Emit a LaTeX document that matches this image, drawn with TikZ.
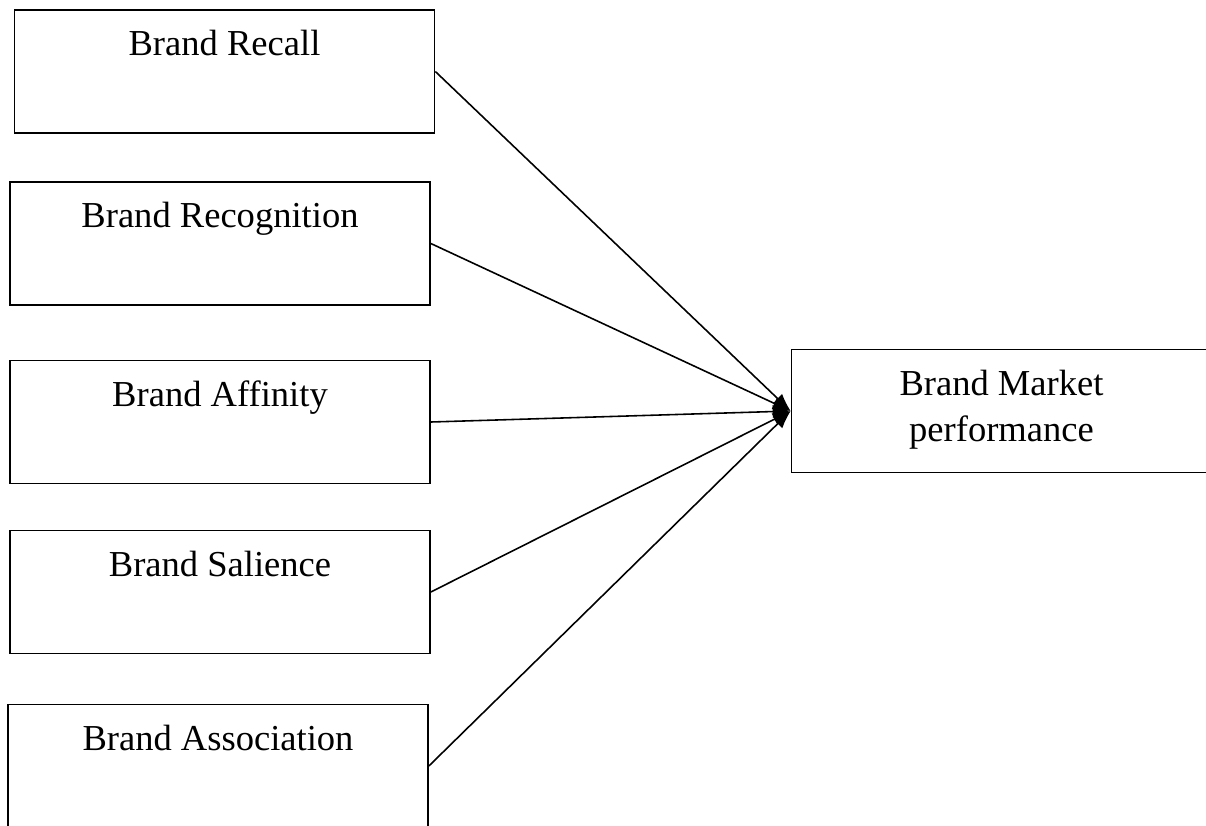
\documentclass[tikz,border=0pt]{standalone}
\usepackage{fontspec}
\setmainfont{Liberation Serif}
\usepackage{tikz}
\usetikzlibrary{positioning, arrows.meta}

\begin{document}
\begin{tikzpicture}[
  x=0.02cm, y=-0.02cm,
  box/.style={draw, line width=1pt, minimum width=8.4cm, minimum height=2.46cm, inner sep=0pt},
  lbl/.style={anchor=north, inner sep=0pt, yshift=-0.42cm, align=center,
    font=\fontsize{20.8}{26.2}\selectfont},
  link/.style={line width=0.9pt, -{Latex[length=0.36cm, width=0.26cm]}},
]
  \useasboundingbox (0,0) rectangle (1206,825);
  \node[box, label={[lbl]north:Brand Recall}] (recall) at (224.5, 71.5) {};
  \node[box, label={[lbl]north:Brand Recognition}] (recog) at (220, 243.5) {};
  \node[box, label={[lbl]north:Brand Affinity}] (affin) at (220, 422) {};
  \node[box, label={[lbl]north:Brand Salience}] (salie) at (220, 592) {};
  \node[box, label={[lbl]north:Brand Association}] (assoc) at (218, 766) {};
  \node[box, label={[lbl]north:Brand Market\\performance}] (market) at (1001.5, 411) {};

  \foreach \src in {recall, recog, affin, salie, assoc}
    \draw[link] (\src.east) -- (market.west);
\end{tikzpicture}
\end{document}
